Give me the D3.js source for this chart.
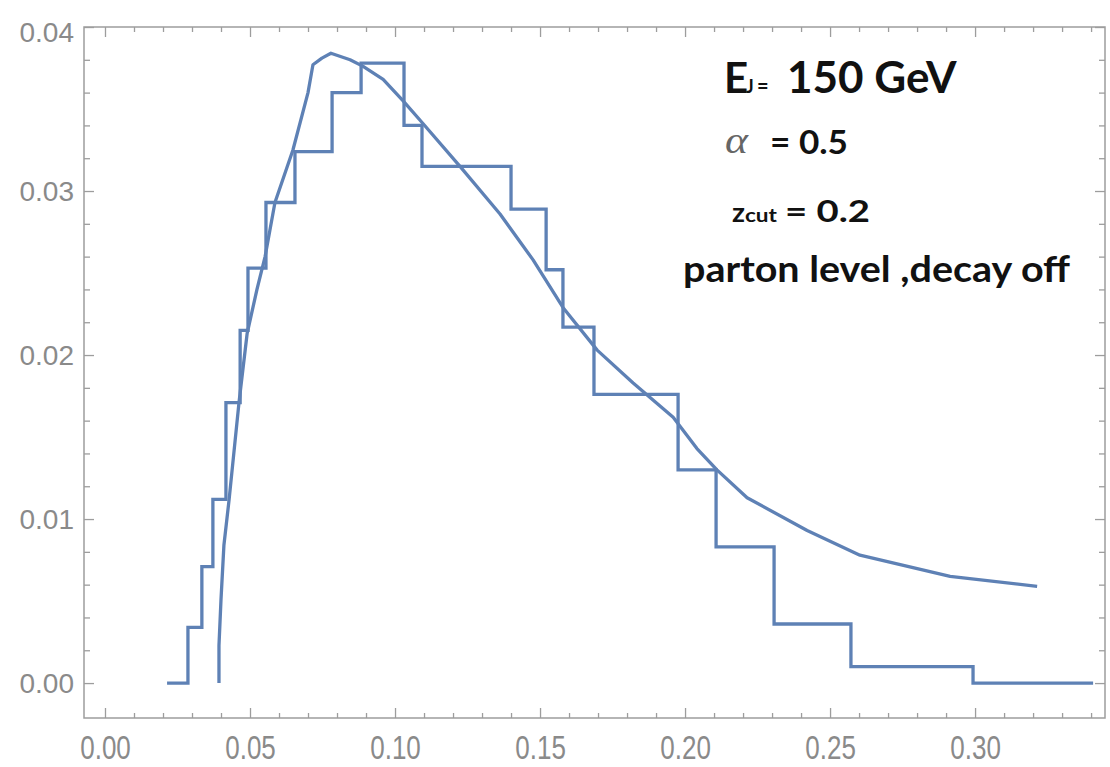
<!DOCTYPE html>
<html>
<head>
<meta charset="utf-8">
<script src="https://cdn.jsdelivr.net/npm/d3@7"></script>
<style>
  html, body { margin: 0; padding: 0; background: #ffffff; }
  svg { display: block; }
</style>
</head>
<body>
<svg id="chart" width="1110" height="767"></svg>
<script>
// Histogram: bin edges and bin heights (normalised distribution)
const binEdges = [0.0214, 0.0286, 0.0334, 0.0372, 0.0417, 0.0466, 0.0493, 0.0555,
                  0.0655, 0.0783, 0.0883, 0.1031, 0.1093, 0.1400, 0.1521, 0.1579,
                  0.1686, 0.1976, 0.2107, 0.2307, 0.2572, 0.2993, 0.3407];
const binHeights = [0.0000, 0.0034, 0.0071, 0.0112, 0.0171, 0.0215, 0.0253, 0.0293,
                    0.0324, 0.0360, 0.0378, 0.0340, 0.0315, 0.0289, 0.0252, 0.0217,
                    0.0176, 0.0130, 0.0083, 0.0036, 0.0010, 0.0000];

// Analytic prediction sampled along x
const curveX = [0.0393, 0.0393, 0.0400, 0.0410, 0.0428, 0.0462, 0.0490, 0.0524, 0.0552,
                0.0586, 0.0648, 0.0700, 0.0717, 0.0748, 0.0779, 0.0845, 0.0890, 0.0959,
                0.1028, 0.1097, 0.1224, 0.1362, 0.1476, 0.1579, 0.1697, 0.1821, 0.1959,
                0.2041, 0.2110, 0.2214, 0.2421, 0.2603, 0.2914, 0.3214];
const curveY = [0.0000, 0.0023, 0.0051, 0.0084, 0.0112, 0.0171, 0.0213, 0.0240, 0.0260,
                0.0293, 0.0325, 0.0360, 0.0377, 0.0381, 0.0384, 0.0380, 0.0376, 0.0368,
                0.0355, 0.0341, 0.0315, 0.0286, 0.0258, 0.0229, 0.0203, 0.0183, 0.0162,
                0.0143, 0.0130, 0.0113, 0.0093, 0.0078, 0.0065, 0.0059];

// Frame tick values and labels
const xTickValues = [0.00, 0.05, 0.10, 0.15, 0.20, 0.25, 0.30];
const xTickLabels = ["0.00", "0.05", "0.10", "0.15", "0.20", "0.25", "0.30"];
const xMinorTicks = [0.01, 0.02, 0.03, 0.04, 0.06, 0.07, 0.08, 0.09, 0.11, 0.12, 0.13, 0.14,
                     0.16, 0.17, 0.18, 0.19, 0.21, 0.22, 0.23, 0.24, 0.26, 0.27, 0.28, 0.29,
                     0.31, 0.32, 0.33, 0.34];
const yTickValues = [0.00, 0.01, 0.02, 0.03, 0.04];
const yTickLabels = ["0.00", "0.01", "0.02", "0.03", "0.04"];
const yMinorTicks = [0.002, 0.004, 0.006, 0.008, 0.012, 0.014, 0.016, 0.018,
                     0.022, 0.024, 0.026, 0.028, 0.032, 0.034, 0.036, 0.038];

const frame = { left: 84, right: 1105, top: 27, bottom: 718 };
const lineColor = "#5e81b5";
const frameColor = "#9d9d9d";
const labelColor = "#8a8a8a";

const svg = d3.select("#chart");

const x = d3.scaleLinear().domain([-0.00724, 0.3448]).range([frame.left, frame.right]);
const y = d3.scaleLinear().domain([-0.00213, 0.04]).range([frame.bottom, frame.top]);

// ---- frame ticks (pointing inward on all four sides) ----
function styleTicks(g) {
  g.select(".domain").remove();
  g.selectAll(".tick line").attr("stroke", frameColor).attr("stroke-width", 1.3);
}

// bottom
svg.append("g").attr("transform", `translate(0,${frame.bottom})`)
  .call(d3.axisBottom(x).tickValues(xMinorTicks).tickSize(-5).tickFormat(""))
  .call(styleTicks);
const bottomMajor = svg.append("g").attr("transform", `translate(0,${frame.bottom})`)
  .call(d3.axisBottom(x).tickValues(xTickValues).tickSize(-10)
        .tickFormat((d, i) => xTickLabels[i]))
  .call(styleTicks);
bottomMajor.selectAll(".tick text")
  .attr("y", 0).attr("dy", null)
  .attr("transform", "translate(0,41) scale(1,1.25)")
  .attr("fill", labelColor)
  .style("font-family", "'Liberation Sans', Arial, sans-serif")
  .style("font-size", "26px");

// top
svg.append("g").attr("transform", `translate(0,${frame.top})`)
  .call(d3.axisTop(x).tickValues(xMinorTicks).tickSize(-5).tickFormat(""))
  .call(styleTicks);
svg.append("g").attr("transform", `translate(0,${frame.top})`)
  .call(d3.axisTop(x).tickValues(xTickValues).tickSize(-10).tickFormat(""))
  .call(styleTicks);

// left
svg.append("g").attr("transform", `translate(${frame.left},0)`)
  .call(d3.axisLeft(y).tickValues(yMinorTicks).tickSize(-6).tickFormat(""))
  .call(styleTicks);
const leftMajor = svg.append("g").attr("transform", `translate(${frame.left},0)`)
  .call(d3.axisLeft(y).tickValues(yTickValues).tickSize(-10).tickPadding(10)
        .tickFormat((d, i) => yTickLabels[i]))
  .call(styleTicks);
leftMajor.selectAll(".tick text")
  .attr("x", -10)
  .attr("dy", (d) => d === y.domain()[1] ? "0.52em" : "0.35em")
  .attr("fill", labelColor)
  .style("font-family", "'Liberation Sans', Arial, sans-serif")
  .style("font-size", "28px");

// right
svg.append("g").attr("transform", `translate(${frame.right},0)`)
  .call(d3.axisRight(y).tickValues(yMinorTicks).tickSize(-6).tickFormat(""))
  .call(styleTicks);
svg.append("g").attr("transform", `translate(${frame.right},0)`)
  .call(d3.axisRight(y).tickValues(yTickValues).tickSize(-10).tickFormat(""))
  .call(styleTicks);

// frame outline
svg.append("rect")
  .attr("x", frame.left).attr("y", frame.top)
  .attr("width", frame.right - frame.left).attr("height", frame.bottom - frame.top)
  .attr("fill", "none").attr("stroke", frameColor).attr("stroke-width", 1.5);

// ---- histogram as a step line ----
const histPoints = binHeights.map((h, i) => [binEdges[i], h]);
histPoints.push([binEdges[binEdges.length - 1], binHeights[binHeights.length - 1]]);
svg.append("path")
  .datum(histPoints)
  .attr("fill", "none")
  .attr("stroke", lineColor)
  .attr("stroke-width", 3.3)
  .attr("stroke-linejoin", "miter")
  .attr("d", d3.line().x(d => x(d[0])).y(d => y(d[1])).curve(d3.curveStepAfter));

// ---- analytic curve ----
const curvePoints = curveX.map((v, i) => [v, curveY[i]]);
svg.append("path")
  .datum(curvePoints)
  .attr("fill", "none")
  .attr("stroke", lineColor)
  .attr("stroke-width", 3.3)
  .attr("stroke-linejoin", "round")
  .attr("d", d3.line().x(d => x(d[0])).y(d => y(d[1])));

// ---- annotation block ----
const notes = svg.append("g")
  .style("font-family", "Lato, 'Open Sans', sans-serif")
  .style("font-weight", "bold")
  .attr("fill", "#111111");

function note(txt, px, py, size, width, extra) {
  const t = notes.append("text")
    .attr("x", px).attr("y", py)
    .style("font-size", size + "px")
    .attr("textLength", width)
    .attr("lengthAdjust", "spacingAndGlyphs")
    .text(txt);
  if (extra) extra(t);
  return t;
}

// jet energy line: E with subscript J, then the value
const energy = notes.append("text").attr("y", 93);
energy.append("tspan").attr("x", 724).style("font-size", "42px").text("E");
energy.append("tspan").attr("x", 746).style("font-size", "18px").text("J");
energy.append("tspan").attr("x", 757).style("font-size", "20px").text("=");
energy.append("tspan").attr("x", 787).style("font-size", "44px").text("150 GeV");

note("\u03b1", 725, 153, 38, 23, t => t
  .style("font-family", "'Liberation Serif', 'DejaVu Serif', serif")
  .style("font-style", "italic")
  .style("font-weight", "normal")
  .attr("fill", "#666666"));
note("= 0.5", 770, 154, 32, 78);

note("z", 732, 222, 27, 13);
note("cut", 745, 222, 19, 32);
note("= 0.2", 785, 222, 31, 85);

note("parton level ,decay off", 683, 282, 36, 387);
</script>
</body>
</html>
